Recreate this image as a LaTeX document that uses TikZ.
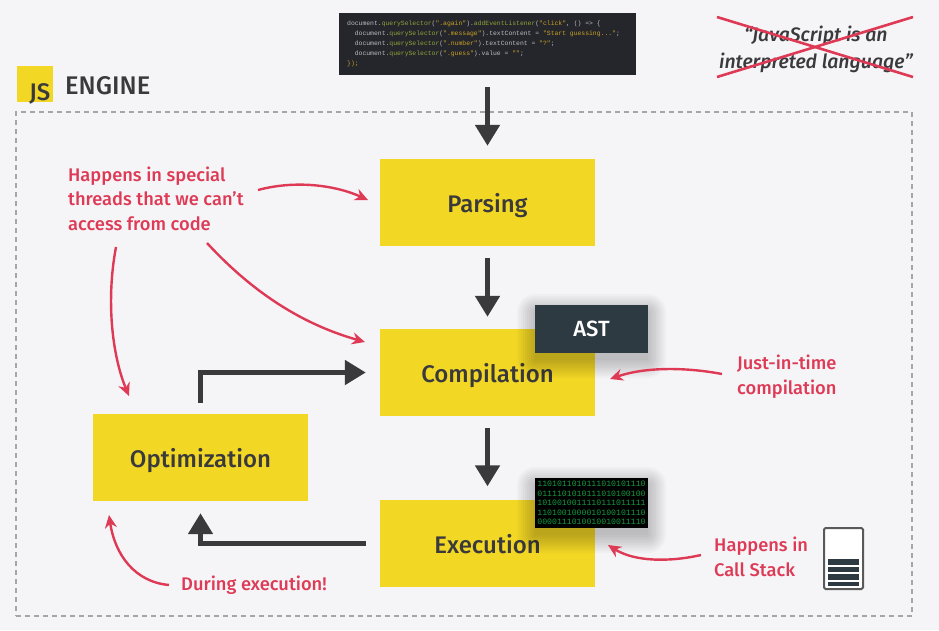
\documentclass[tikz,border=0pt]{standalone}
\usepackage{fontspec}
\setmainfont{Fira Sans Medium}[ItalicFont={Fira Sans Medium Italic}]
\newfontfamily\codefont{Liberation Mono}
\usetikzlibrary{arrows.meta,positioning,calc}
\definecolor{bgc}{HTML}{F5F5F7}
\definecolor{yel}{HTML}{F3D725}
\definecolor{dk}{HTML}{3A3A3C}
\definecolor{redc}{HTML}{DE3A56}
\definecolor{astc}{HTML}{2E3A42}
\definecolor{dashc}{HTML}{A6A6A8}
\definecolor{codebg}{HTML}{25262B}
\definecolor{cg}{HTML}{8FA33A}
\definecolor{cy}{HTML}{C9A227}
\definecolor{cw}{HTML}{B9BCC2}
\definecolor{bingreen}{HTML}{169A42}
\tikzset{
 x=1pt,y=-1pt,
 stage/.style={fill=yel,draw=none,minimum width=215pt,minimum height=87pt,inner sep=0pt,font=\fontsize{24}{27}\selectfont,text=dk,text height=20pt,text depth=0pt},
 flow/.style={draw=dk,line width=5pt,-{Triangle[length=21pt,width=24pt]}},
 note/.style={text=redc,font=\fontsize{18.3}{24.5}\selectfont,align=left,anchor=west,inner sep=0pt},
 curve/.style={draw=redc,line width=2.4pt,-{Stealth[length=13pt,width=12pt]}},
 cross/.style={draw=redc,line width=2.6pt},
}
\newcommand{\softshadow}[4]{%
 \foreach \w in {18,16,14,12,10,8,6,4,2,0}{%
  \fill[black,opacity=0.024,rounded corners=\w pt] (#1-\w,#2-\w+7) rectangle (#3+\w,#4+\w+7);}}
\newcommand{\cl}[1]{\textcolor{cw}{#1}}
\newcommand{\cs}[1]{\textcolor{cg}{#1}}
\newcommand{\cq}[1]{\textcolor{cy}{#1}}
\begin{document}
\begin{tikzpicture}
\useasboundingbox (0,0) rectangle (939,630);
\fill[bgc] (0,0) rectangle (939,630);
% engine frame
\node[draw=dashc,line width=2.2pt,dash pattern=on 5pt off 4pt,minimum width=896pt,minimum height=504pt,inner sep=0pt] (frame) at (464,364) {};
% logo
\node[fill=yel,minimum size=36pt,inner sep=0pt] (logo) at (35,84) {};
\node[text=dk,font=\fontsize{24}{24}\selectfont,anchor=base east,inner sep=0pt] (js) at (50.5,100) {JS};
\node[text=dk,font=\fontsize{25.5}{25.5}\selectfont,anchor=base west,inner sep=0pt] (engine) at (65,94) {ENGINE};
% code
\node[fill=codebg,draw=none,minimum width=297pt,minimum height=62pt,inner sep=0pt] (code) at (487.5,44) {};
\node[anchor=west,inner sep=0pt,font=\codefont\fontsize{6.4}{9.9}\selectfont,align=left] (codetext) at (347,44) {%
\cl{document.}\cs{querySelector}\cl{(}\cq{".again"}\cl{).}\cs{addEventListener}\cl{(}\cq{"click"}\cl{, () =\hspace{0pt}> \{}\\
\ \ \cl{document.}\cs{querySelector}\cl{(}\cq{".message"}\cl{).textContent = }\cq{"Start guessing..."}\cl{;}\\
\ \ \cl{document.}\cs{querySelector}\cl{(}\cq{".number"}\cl{).textContent = }\cq{"?"}\cl{;}\\
\ \ \cl{document.}\cs{querySelector}\cl{(}\cq{".guess"}\cl{).value = }\cq{""}\cl{;}\\
\cq{\});}};
% stages
\node[stage] (parsing) at (487.5,202.5) {Parsing};
\node[stage] (comp) at (487.5,372.5) {Compilation};
\node[stage] (exec) at (487.5,543) {Execution};
\node[stage] (optim) at (200.5,457.5) {Optimization};
% AST
\softshadow{535}{305}{648}{353}
\node[fill=astc,text=white,minimum width=113pt,minimum height=48pt,inner sep=0pt,font=\fontsize{22}{22}\selectfont,text height=15pt,text depth=0pt] (ast) at (591.5,329) {AST};
% binary
\softshadow{535}{478}{648}{528}
\node[fill=black,minimum width=113pt,minimum height=50pt,inner sep=0pt] (bin) at (591.5,503) {};
\node[text=bingreen,inner sep=0pt,font=\codefont\fontsize{8.2}{9.6}\selectfont,align=center] (bintext) at (591.5,503) {%
1101011010111010101110\\
0111101010111010100100\\
1010010011110111011111\\
1101001000010100101110\\
0000111010010010011110};
% flow arrows
\draw[flow,shorten <=12pt,shorten >=13pt] (code) -- (parsing);
\draw[flow,shorten <=12pt,shorten >=12pt] (parsing) -- (comp);
\draw[flow,shorten <=12pt,shorten >=13pt] (comp) -- (exec);
\draw[flow,shorten <=11pt,shorten >=14pt] (optim.north) |- (comp.west);
\draw[flow,shorten <=14pt,shorten >=12pt] (exec.west) -| (optim.south);
% notes
\node[note] (threads) at (68,198.5) {Happens in special\\threads that we can’t\\access from code};
\node[note] (jit) at (737,376.5) {Just-in-time\\compilation};
\node[note] (stacknote) at (714,557) {Happens in\\Call Stack};
\node[note] (during) at (181,585.5) {During execution!};
% red curves
\coordinate (p1) at (258,190); \coordinate (p2) at (368,200);
\draw[curve] (p1) .. controls (295,180) and (335,185) .. (p2);
\coordinate (c1) at (207,243); \coordinate (c2) at (365,342);
\draw[curve] (c1) .. controls (255,295) and (305,325) .. (c2);
\coordinate (o1) at (116,247); \coordinate (o2) at (129,396);
\draw[curve] (o1) .. controls (106,300) and (112,355) .. (o2);
\coordinate (d1) at (169,585); \coordinate (d2) at (109,515);
\draw[curve] (d1) .. controls (135,582) and (115,555) .. (d2);
\coordinate (j1) at (722,374); \coordinate (j2) at (610,379);
\draw[curve] (j1) .. controls (685,367) and (645,367) .. (j2);
\coordinate (s1) at (701,555); \coordinate (s2) at (608,545);
\draw[curve] (s1) .. controls (670,562) and (635,562) .. (s2);
% stack icon
\node[fill=white,draw=black!65,line width=2pt,rounded corners=1.5pt,minimum width=39pt,minimum height=61pt,inner sep=0pt] (stack) at (843.5,558.5) {};
\fill[astc] (828,559) rectangle (859,565);
\fill[astc] (828,566.5) rectangle (859,572);
\fill[astc] (828,574) rectangle (859,579.5);
\fill[astc] (828,581.5) rectangle (859,586);
% crossed quote
\node[text=dk,font=\fontsize{19.5}{27}\selectfont\itshape,align=center,inner sep=0pt] (quote) at (816,49) {“JavaScript is an\\interpreted language”};
\coordinate (x1) at (717,17); \coordinate (x2) at (913,77);
\coordinate (x3) at (717,77); \coordinate (x4) at (913,17);
\draw[cross] (x1) -- (x2);
\draw[cross] (x3) -- (x4);
\end{tikzpicture}
\end{document}
